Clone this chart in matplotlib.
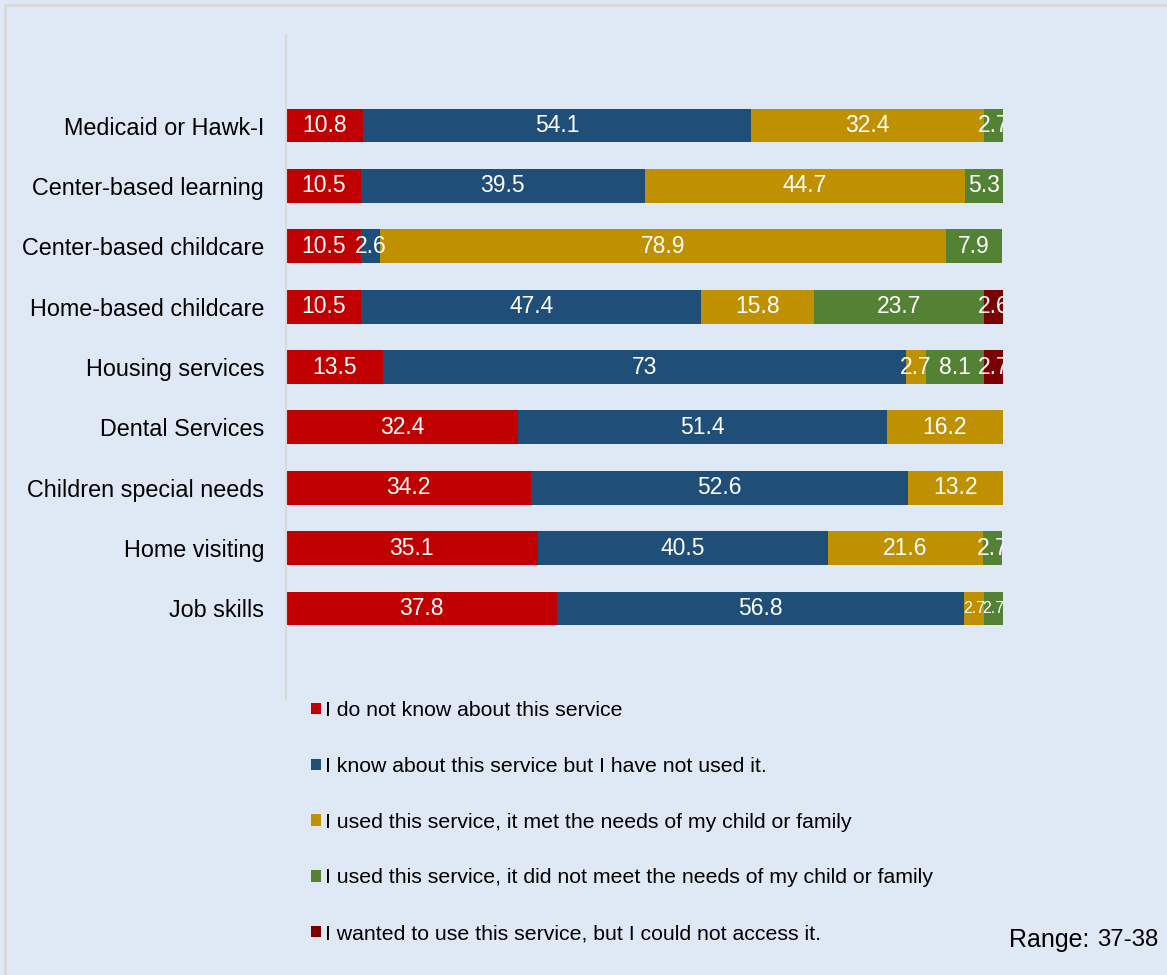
import matplotlib
matplotlib.use("Agg")
import matplotlib.pyplot as plt
from matplotlib.patches import Rectangle, Patch

plt.rcParams['font.family'] = ['Liberation Sans', 'DejaVu Sans']

categories = ["Medicaid or Hawk-I", "Center-based learning", "Center-based childcare",
              "Home-based childcare", "Housing services", "Dental Services",
              "Children special needs", "Home visiting", "Job skills"]
series_names = ["I do not know about this service",
                "I know about this service but I have not used it.",
                "I used this service, it met the needs of my child or family",
                "I used this service, it did not meet the needs of my child or family",
                "I wanted to use this service, but I could not access it."]
dont_know = [10.8, 10.5, 10.5, 10.5, 13.5, 32.4, 34.2, 35.1, 37.8]
know_not_used = [54.1, 39.5, 2.6, 47.4, 73, 51.4, 52.6, 40.5, 56.8]
used_met = [32.4, 44.7, 78.9, 15.8, 2.7, 16.2, 13.2, 21.6, 2.7]
used_not_met = [2.7, 5.3, 7.9, 23.7, 8.1, 0, 0, 2.7, 2.7]
could_not_access = [0, 0, 0, 2.6, 2.7, 0, 0, 0, 0]
range_text = "37-38"

series = [dont_know, know_not_used, used_met, used_not_met, could_not_access]
colors = ["#C00000", "#1F4E79", "#BF9000", "#548235", "#7B0000"]
bg = "#DEE9F5"

fig = plt.figure(figsize=(11.67, 9.75), dpi=100, facecolor=bg)
fig.patches.append(Rectangle((5/1167, -0.05), 1.1, 1.05 - 5/975, transform=fig.transFigure,
                             facecolor=bg, edgecolor="#D9D9D9", linewidth=2, zorder=-10))
ax = fig.add_axes([286/1167, 1 - 699/975, (1003 - 286)/1167, (699 - 35)/975])
ax.set_facecolor(bg)
ax.patch.set_alpha(0)

y = list(range(len(categories)))
left = [0.0] * len(categories)
for vals, col, name in zip(series, colors, series_names):
    ax.barh(y, vals, left=left, height=0.56, color=col, label=name, edgecolor="none")
    for i, v in enumerate(vals):
        if v > 0:
            fs = 11.5 if (categories[i] == "Job skills" and v < 5) else 16.5
            txt = f"{v:g}"
            ax.text(left[i] + v / 2, i, txt, ha="center", va="center", color="white",
                    fontsize=fs, clip_on=True)
    left = [l + v for l, v in zip(left, vals)]

ax.set_xlim(0, 100)
ax.set_ylim(len(categories) - 1 + 1.5, -1.5)
ax.set_yticks(y)
ax.set_yticklabels(categories, fontsize=16.8)
ax.tick_params(axis="y", length=0, pad=15.8)
ax.set_xticks([])
for s in ["top", "right", "bottom"]:
    ax.spines[s].set_visible(False)
ax.spines["left"].set_color("#D9D9D9")
ax.spines["left"].set_linewidth(1.5)

handles = [Patch(facecolor=c, edgecolor="none") for c in colors]
fig.legend(handles, series_names, loc="upper left", bbox_to_anchor=(292/1167, 1 - 682/975),
           frameon=False, fontsize=15.3, handlelength=0.45, handleheight=0.45,
           handletextpad=0.2, labelspacing=1.73)

fig.text(1089/1167, 1 - 940/975, "Range:", fontsize=18, va="center", ha="right")
fig.text(1158/1167, 1 - 940/975, range_text, fontsize=17.3, va="center", ha="right")

fig.savefig("out.png", dpi=100, facecolor=bg)
